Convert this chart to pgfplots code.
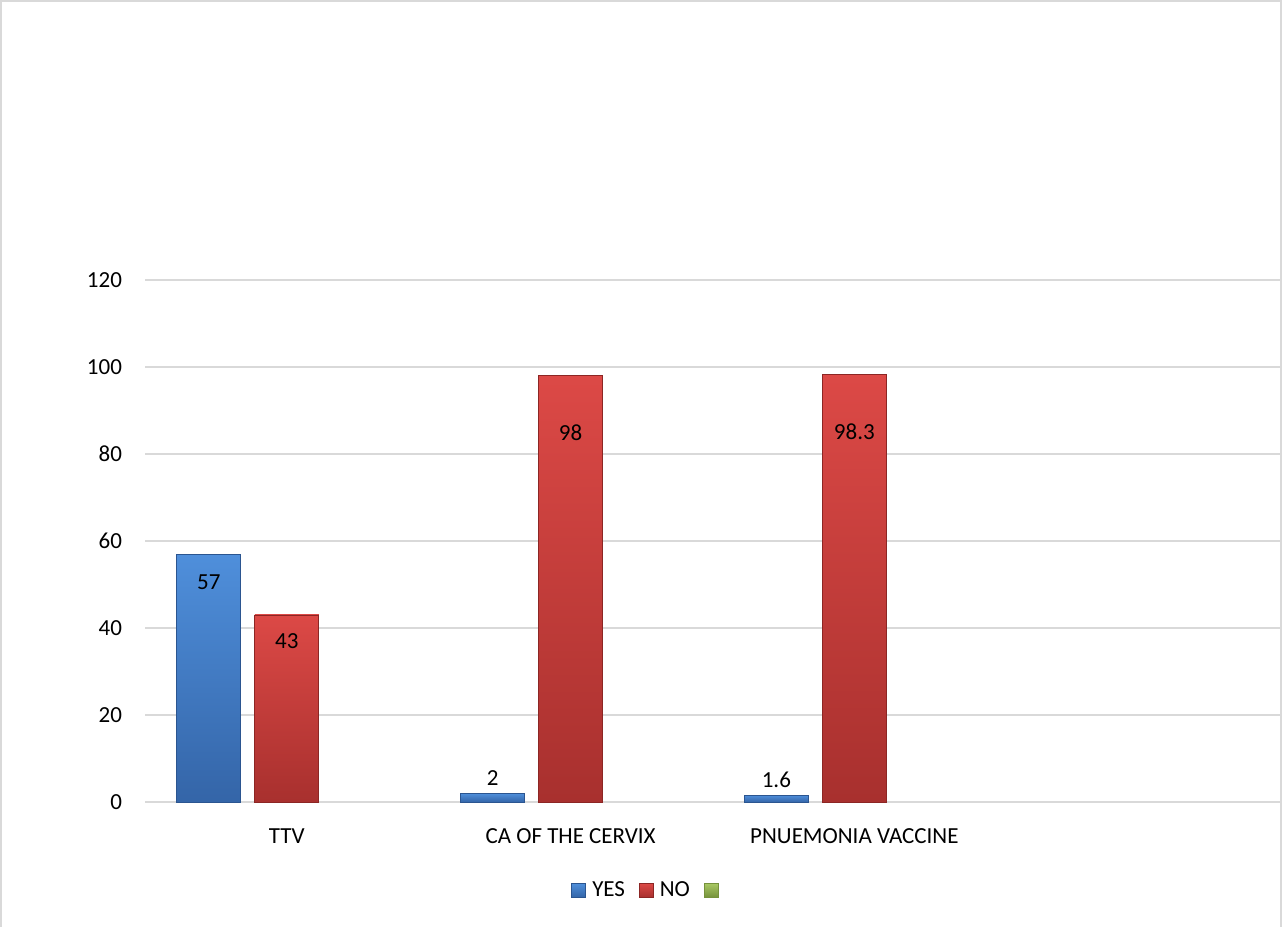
\documentclass[border=0pt]{standalone}
\usepackage{fontspec}
\setmainfont{Carlito}
\usepackage{pgfplots}
\pgfplotsset{compat=1.18}
\definecolor{gridgray}{HTML}{D9D9D9}
\definecolor{framegray}{HTML}{D9D9D9}
\definecolor{yestop}{HTML}{4F8FDB}
\definecolor{yesbot}{HTML}{3465A8}
\definecolor{yesedge}{HTML}{2B5590}
\definecolor{notop}{HTML}{DC4946}
\definecolor{nobot}{HTML}{A8302E}
\definecolor{noedge}{HTML}{8C2624}
\definecolor{gtop}{HTML}{A9C964}
\definecolor{gbot}{HTML}{76923C}

\begin{document}
\begin{tikzpicture}
% page is 1282 x 927 px at 0.5pt per px
\useasboundingbox (0pt,0pt) rectangle (641pt,463.5pt);
\draw[framegray, line width=1pt] (0.5pt,0pt) -- (0.5pt,463pt) -- (640.5pt,463pt) -- (640.5pt,0pt);

\begin{axis}[
  at={(72.5pt,62.5pt)}, anchor=south west,
  scale only axis, width=567.5pt, height=261pt,
  xmin=-0.5, xmax=3.5, ymin=0, ymax=120,
  xtick={0,1,2},
  xticklabels={TTV, CA OF THE CERVIX, PNUEMONIA VACCINE},
  ytick={0,20,...,120},
  ymajorgrids, grid style={gridgray, line width=0.8pt},
  axis line style={draw=none},
  major tick length=0pt,
  tick label style={font=\fontsize{11.5}{13}\selectfont},
  yticklabel style={xshift=-8pt},
  xticklabel style={yshift=-10pt},
  /pgf/number format/assume math mode=true,
  bar width=32pt,
  clip=false,
  legend style={at={(rel axis cs:0.445,-0.169)}, anchor=center, draw=none,
    fill=none, legend columns=-1, font=\fontsize{11.5}{13}\selectfont,
    /tikz/every odd column/.append style={column sep=1pt},
    /tikz/every even column/.append style={column sep=5pt}},
  legend image code/.code={\path[#1] (0pt,-3.5pt) rectangle (7pt,3.5pt);},
  lab/.style 2 args={nodes near coords, every node near coord/.append style={anchor=center, xshift=#1, yshift=#2, font=\fontsize{11.5}{13}\selectfont}},
]
% YES
\addplot[ybar, forget plot, bar shift=-39pt, draw=yesedge, top color=yestop, bottom color=yesbot, lab={-39pt}{-14pt}] coordinates {(0,57)};
\addplot[ybar, forget plot, bar shift=-39pt, draw=yesedge, top color=yestop, bottom color=yesbot, lab={-39pt}{7.5pt}] coordinates {(1,2)};
\addplot[ybar, forget plot, bar shift=-39pt, draw=yesedge, top color=yestop, bottom color=yesbot, lab={-39pt}{7.5pt}] coordinates {(2,1.6)};
% NO
\addplot[ybar, forget plot, bar shift=0pt, draw=noedge, top color=notop, bottom color=nobot, lab={0pt}{-13pt}] coordinates {(0,43)};
\addplot[ybar, forget plot, bar shift=0pt, draw=noedge, top color=notop, bottom color=nobot, lab={0pt}{-28.5pt}] coordinates {(1,98)};
\addplot[ybar, forget plot, bar shift=0pt, draw=noedge, top color=notop, bottom color=nobot, lab={0pt}{-28.5pt}] coordinates {(2,98.3)};

\addlegendimage{draw=yesedge, top color=yestop, bottom color=yesbot}
\addlegendentry{YES}
\addlegendimage{draw=noedge, top color=notop, bottom color=nobot}
\addlegendentry{NO}
\addlegendimage{draw=gbot, top color=gtop, bottom color=gbot}
\addlegendentry{}
\end{axis}
\end{tikzpicture}
\end{document}
